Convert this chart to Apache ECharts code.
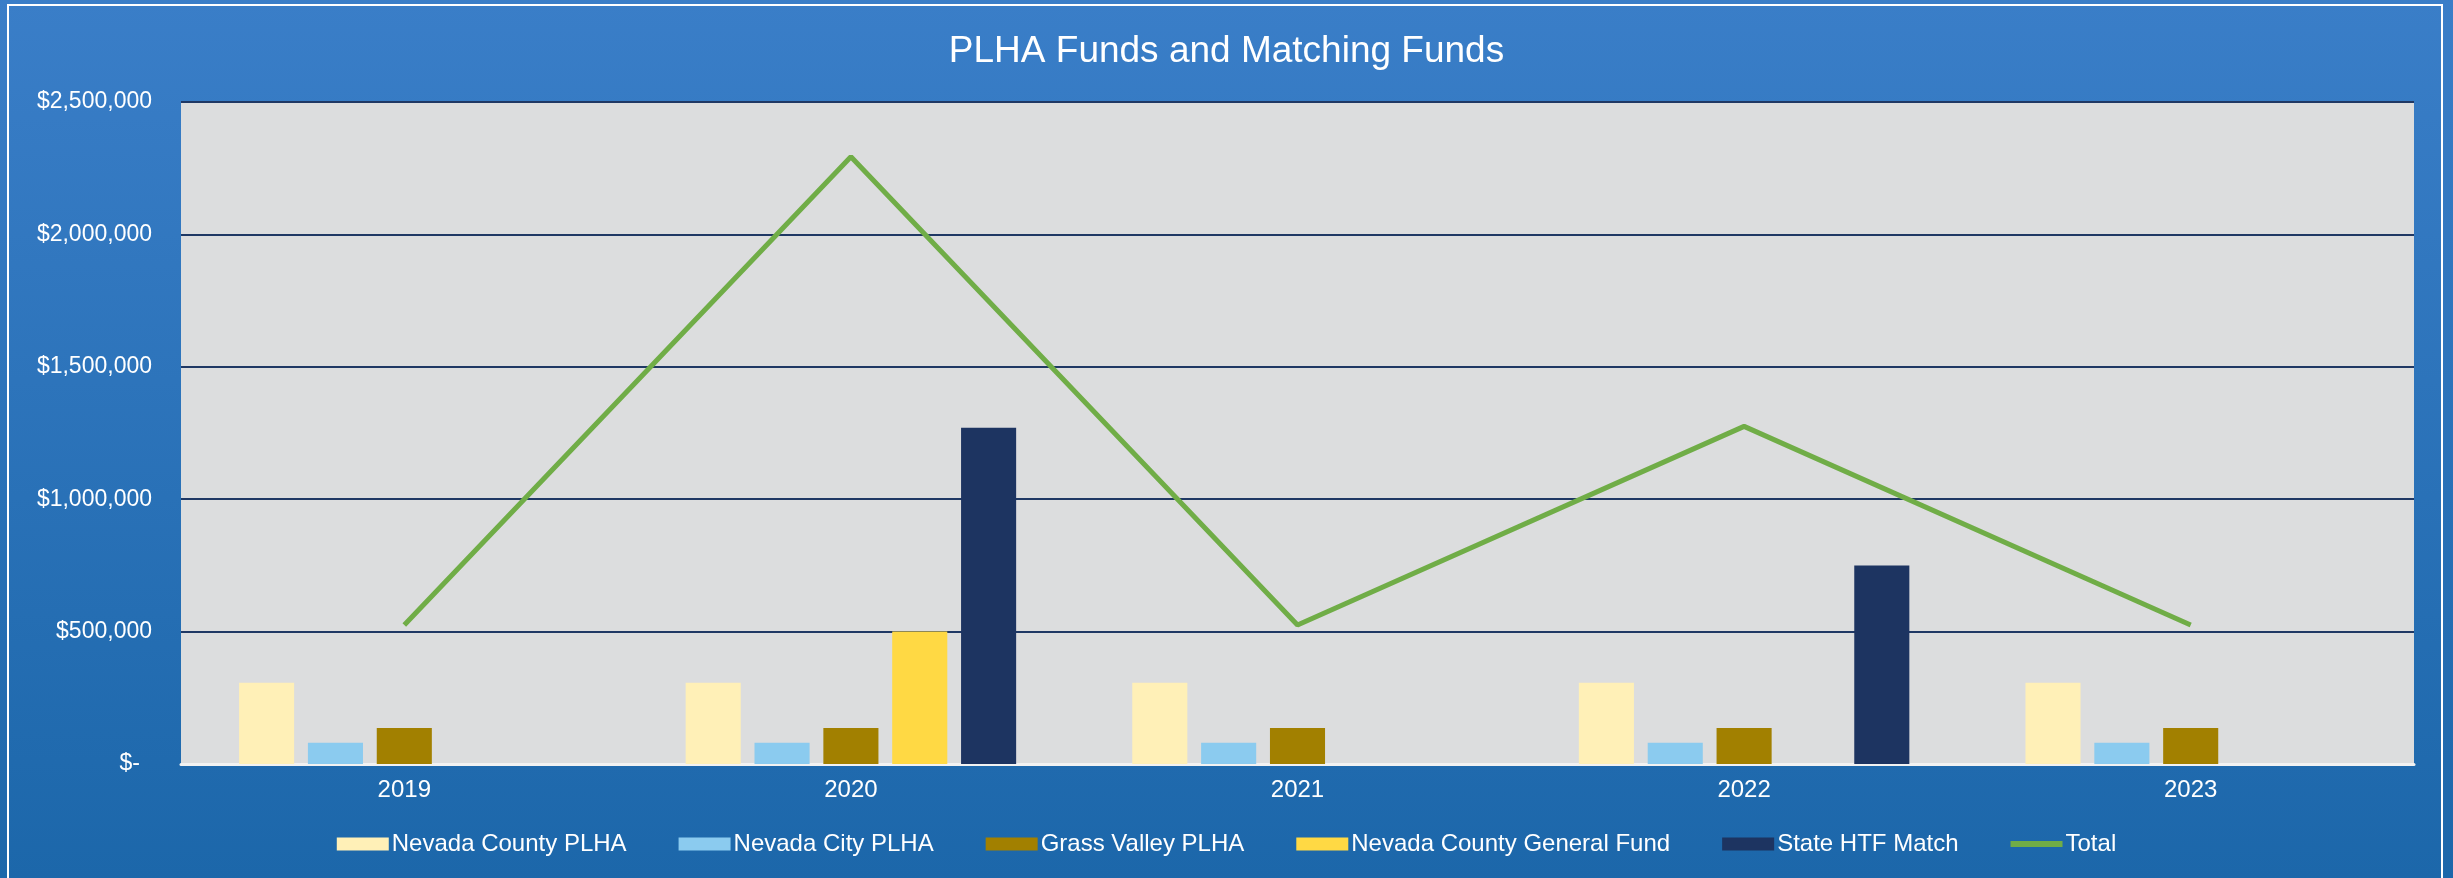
<!DOCTYPE html>
<html>
<head>
<meta charset="utf-8">
<title>PLHA Funds and Matching Funds</title>
<script src="https://cdn.jsdelivr.net/npm/echarts@6/dist/echarts.min.js"></script>
<style>
  html, body { margin: 0; padding: 0; }
  #chart { width: 2453px; height: 878px; }
</style>
</head>
<body>
<div id="chart"></div>
<script>
// data
var years = ['2019', '2020', '2021', '2022', '2023'];
var nevadaCountyPlha = [307000, 307000, 307000, 307000, 307000];
var nevadaCityPlha = [80000, 80000, 80000, 80000, 80000];
var grassValleyPlha = [136000, 136000, 136000, 136000, 136000];
var nevadaCountyGeneral = [null, 500000, null, null, null];
var stateHtfMatch = [null, 1270000, null, 750000, null];
var total = [525000, 2293000, 525000, 1275000, 525000];
var yTicks = [0, 500000, 1000000, 1500000, 2000000, 2500000];

var font = 'Liberation Sans, Arial, sans-serif';

var chart = echarts.init(document.getElementById('chart'));

function money(v) {
  if (v === 0) return '{z|$-}';
  return '$' + v.toLocaleString('en-US');
}

function bar(name, data, color) {
  return {
    name: name,
    type: 'bar',
    data: data,
    barGap: '25%',
    barCategoryGap: '26%',
    itemStyle: { color: color }
  };
}

// thin line icon for Total: empty sub-paths keep the box 52x13
var lineIcon = 'path://M0,0L0,0M0,13L0,13M0,3.5L52,3.5L52,9.5L0,9.5Z';

var options = {
  backgroundColor: new echarts.graphic.LinearGradient(0, 0, 0, 1, [
    { offset: 0, color: '#3A7EC8' },
    { offset: 1, color: '#1C67AA' }
  ]),
  textStyle: { fontFamily: font },
  // white frame round the chart
  graphic: [{
    type: 'rect',
    shape: { x: 8, y: 5, width: 2434, height: 890 },
    style: { fill: 'none', stroke: '#ffffff', lineWidth: 2 },
    silent: true
  }],
  title: {
    text: 'PLHA Funds and Matching Funds',
    left: 'center',
    top: 28,
    textStyle: { color: '#ffffff', fontSize: 37, fontWeight: 'normal', fontFamily: font }
  },
  legend: {
    bottom: 17,
    left: 'center',
    itemWidth: 52,
    itemHeight: 13,
    itemGap: 52,
    textStyle: { color: '#ffffff', fontSize: 24, fontFamily: font, padding: [0, 0, 0, -2] },
    data: [
      { name: 'Nevada County PLHA', icon: 'rect' },
      { name: 'Nevada City PLHA', icon: 'rect' },
      { name: 'Grass Valley PLHA', icon: 'rect' },
      { name: 'Nevada County General Fund', icon: 'rect' },
      { name: 'State HTF Match', icon: 'rect' },
      { name: 'Total', icon: lineIcon, itemStyle: { color: '#70AD47' } }
    ]
  },
  grid: {
    left: 181,
    right: 39,
    top: 102,
    bottom: 114,
    show: true,
    backgroundColor: '#DCDDDE',
    borderWidth: 0
  },
  xAxis: {
    type: 'category',
    data: years,
    axisTick: { show: false },
    axisLine: { lineStyle: { color: '#F2F2F2', width: 3 } },
    axisLabel: { color: '#ffffff', fontSize: 24, margin: 14, fontFamily: font }
  },
  yAxis: {
    type: 'value',
    min: yTicks[0],
    max: yTicks[yTicks.length - 1],
    interval: yTicks[1] - yTicks[0],
    axisLine: { show: false },
    axisTick: { show: false },
    splitLine: { lineStyle: { color: '#1F3864', width: 2 } },
    axisLabel: {
      color: '#ffffff',
      fontSize: 23,
      margin: 29,
      fontFamily: font,
      formatter: money,
      rich: { z: { color: '#ffffff', fontSize: 23, fontFamily: font, padding: [0, 12, 0, 0] } }
    }
  },
  series: [
    bar('Nevada County PLHA', nevadaCountyPlha, '#FFF0B7'),
    bar('Nevada City PLHA', nevadaCityPlha, '#8BCBEF'),
    bar('Grass Valley PLHA', grassValleyPlha, '#A28000'),
    bar('Nevada County General Fund', nevadaCountyGeneral, '#FFD944'),
    bar('State HTF Match', stateHtfMatch, '#1D3461'),
    {
      name: 'Total',
      type: 'line',
      data: total,
      symbol: 'none',
      z: 5,
      lineStyle: { color: '#70AD47', width: 5 },
      itemStyle: { color: '#70AD47' }
    }
  ]
};

chart.setOption(options);
</script>
</body>
</html>
